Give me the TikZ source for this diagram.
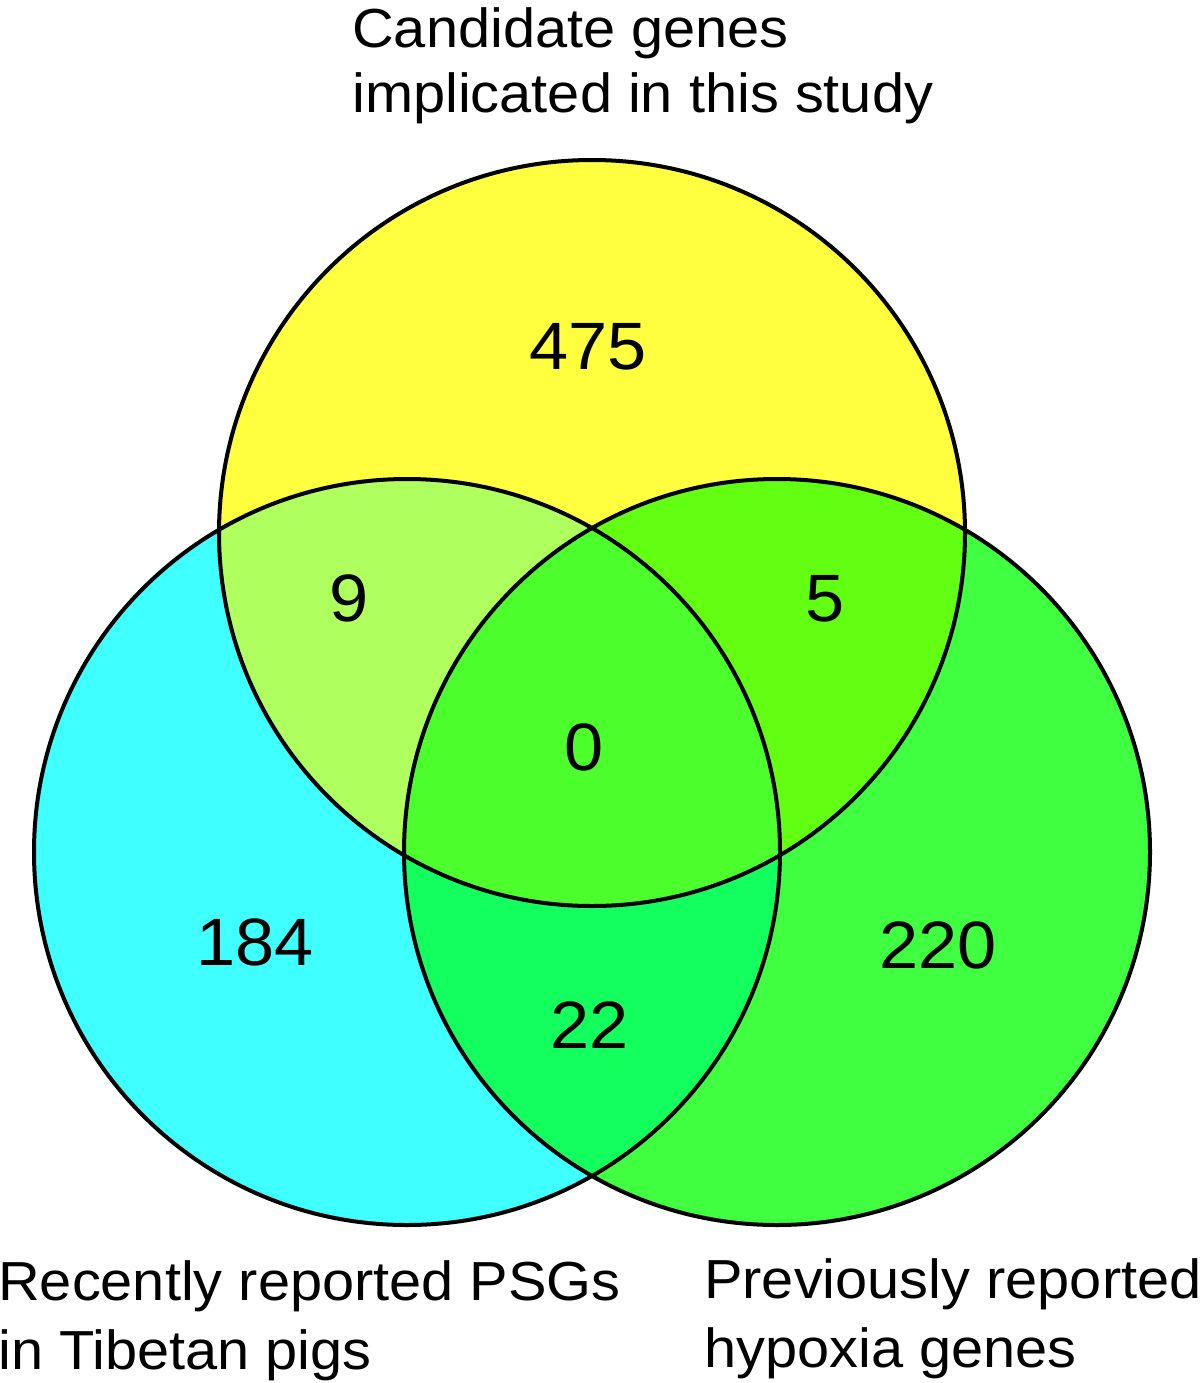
\documentclass[tikz,border=0pt]{standalone}
\usepackage{fontspec}
\setmainfont{Liberation Sans}[FakeStretch=1.05]
\usetikzlibrary{positioning}
\definecolor{studyfill}{HTML}{FFFF40}
\definecolor{psgfill}{HTML}{40FFFF}
\definecolor{hypoxiafill}{HTML}{40FF40}
\definecolor{studypsg}{HTML}{AFFF5F}
\definecolor{studyhypoxia}{HTML}{62FF12}
\definecolor{psghypoxia}{HTML}{12FF5E}
\definecolor{allthree}{HTML}{4CFF2C}

\begin{document}
\begin{tikzpicture}[
  x=1pt, y=-1pt,
  setline/.style={draw=black, line width=4pt},
  count/.style={inner sep=0pt, font=\fontsize{67}{67}\selectfont},
  setlabel/.style={inner sep=0pt, anchor=north west, align=left, font=\fontsize{55}{#1}\selectfont}
]
\useasboundingbox (0,0) rectangle (1200,1383);

% circle centres
\coordinate (study) at (592,533);
\coordinate (psg) at (407,852);
\coordinate (hypoxia) at (777,852);

% single sets
\fill[studyfill] (study) circle[radius=373pt];
\fill[psgfill] (psg) circle[radius=373pt];
\fill[hypoxiafill] (hypoxia) circle[radius=373pt];

% pairwise overlaps
\begin{scope}
  \clip (study) circle[radius=373pt];
  \fill[studypsg] (psg) circle[radius=373pt];
  \fill[studyhypoxia] (hypoxia) circle[radius=373pt];
\end{scope}
\begin{scope}
  \clip (psg) circle[radius=373pt];
  \fill[psghypoxia] (hypoxia) circle[radius=373pt];
\end{scope}
% centre overlap
\begin{scope}
  \clip (study) circle[radius=373pt];
  \clip (psg) circle[radius=373pt];
  \fill[allthree] (hypoxia) circle[radius=373pt];
\end{scope}

% outlines
\draw[setline] (study) circle[radius=373pt];
\draw[setline] (psg) circle[radius=373pt];
\draw[setline] (hypoxia) circle[radius=373pt];

% counts
\node[count] (nstudy) at (588,347) {475};
\node[count] (nstudypsg) at (349,598) {9};
\node[count] (nstudyhyp) at (825,599) {5};
\node[count] (nall) at (584,747) {0};
\node[count] (npsg) at (255,942) {184};
\node[count] (nhyp) at (938,945) {220};
\node[count] (npsghyp) at (590,1025) {22};

% set labels
\node[setlabel=65pt] (lstudy) at (352,7) {Candidate genes\\implicated in this study};
\node[setlabel=69pt] (lpsg) at (-2,1260) {Recently reported PSGs\\in Tibetan pigs};
\node[setlabel=69pt] (lhyp) at (704,1258) {Previously reported\\hypoxia genes};
\end{tikzpicture}
\end{document}
